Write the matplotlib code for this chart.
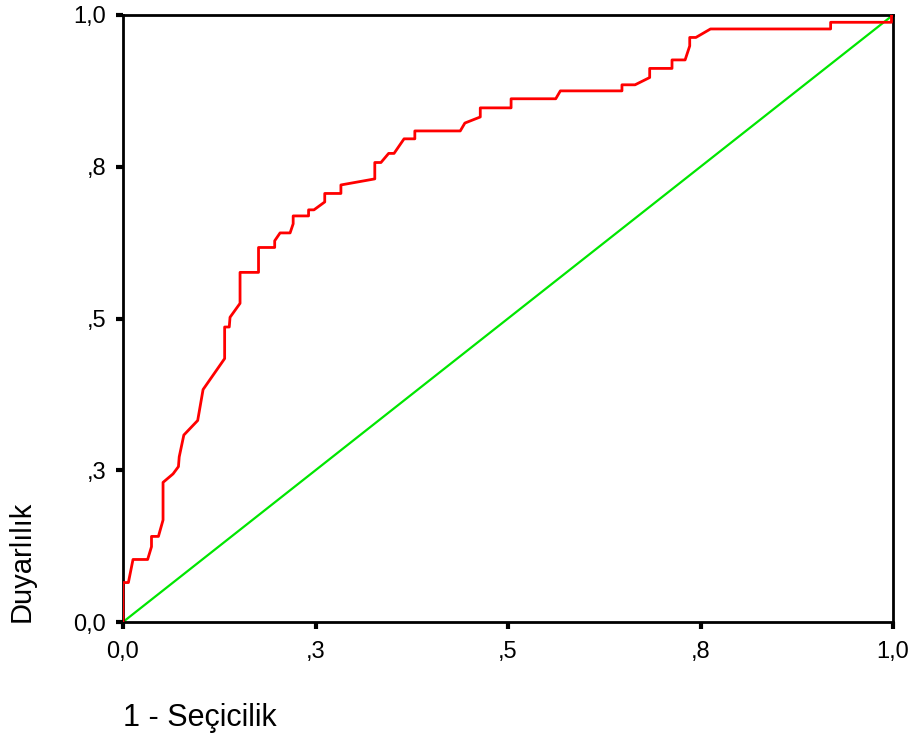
import matplotlib.pyplot as plt

plt.rcParams["font.family"] = ["Liberation Sans", "DejaVu Sans"]

# ROC egrisi noktalari (1 - Secicilik, Duyarlilik)
fpr = [0.0, 0.0, 0.007, 0.013, 0.032, 0.037, 0.037, 0.046, 0.052, 0.052,
       0.065, 0.072, 0.073, 0.079, 0.097, 0.104, 0.132, 0.132, 0.138, 0.139,
       0.152, 0.152, 0.176, 0.176, 0.197, 0.197, 0.204, 0.217, 0.221, 0.221,
       0.241, 0.241, 0.248, 0.262, 0.262, 0.283, 0.283, 0.327, 0.327, 0.335,
       0.345, 0.352, 0.365, 0.379, 0.379, 0.438, 0.444, 0.464, 0.464, 0.504,
       0.504, 0.562, 0.568, 0.648, 0.648, 0.665, 0.684, 0.684, 0.713, 0.713,
       0.730, 0.736, 0.736, 0.744, 0.763, 0.919, 0.919, 0.998, 0.998, 1.0]
tpr = [0.0, 0.065, 0.065, 0.103, 0.103, 0.124, 0.141, 0.141, 0.168, 0.230,
       0.244, 0.256, 0.272, 0.308, 0.332, 0.383, 0.434, 0.486, 0.486, 0.502,
       0.525, 0.576, 0.576, 0.617, 0.617, 0.628, 0.641, 0.641, 0.656, 0.669,
       0.669, 0.679, 0.679, 0.692, 0.706, 0.706, 0.720, 0.730, 0.757, 0.757,
       0.772, 0.772, 0.796, 0.796, 0.809, 0.809, 0.822, 0.832, 0.847, 0.847,
       0.862, 0.862, 0.875, 0.875, 0.885, 0.885, 0.897, 0.912, 0.912, 0.926,
       0.926, 0.949, 0.963, 0.963, 0.977, 0.977, 0.988, 0.988, 1.0, 1.0]

tick_vals = [0.0, 0.25, 0.5, 0.75, 1.0]
tick_labels = ["0,0", ",3", ",5", ",8", "1,0"]

fig = plt.figure(figsize=(9.2, 7.4), dpi=100)
ax = fig.add_axes([123 / 920, 118 / 740, 770 / 920, 607 / 740])

ax.plot([0, 1], [0, 1], color="#00e600", lw=1.6, zorder=2)
ax.plot(fpr, tpr, color="#ff0000", lw=2.0, zorder=3)

ax.set_xlim(0, 1)
ax.set_ylim(0, 1)
ax.set_xticks(tick_vals)
ax.set_xticklabels(tick_labels)
ax.set_yticks(tick_vals)
ax.set_yticklabels(tick_labels)
ax.tick_params(direction="out", length=5, width=3, labelsize=17)
ax.tick_params(axis="x", pad=9)
ax.tick_params(axis="y", pad=7)

for s in ax.spines.values():
    s.set_linewidth(2)
    s.set_color("black")

fig.text(22 / 920, 118 / 740, "Duyarlılık", rotation=90, ha="center", va="bottom", fontsize=21)
fig.text(123 / 920, 22 / 740, "1 - Seçicilik", ha="left", va="center", fontsize=22)

fig.savefig("out.png", dpi=100)
